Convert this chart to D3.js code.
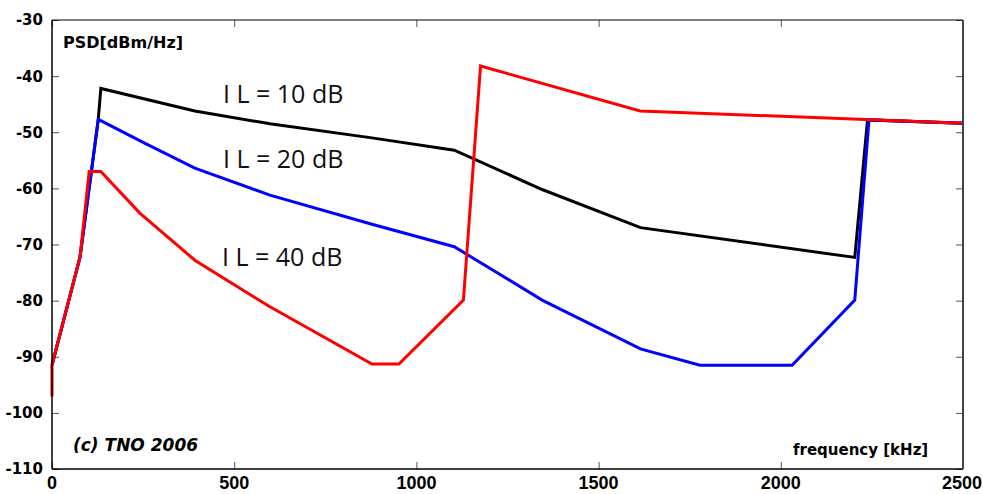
<!DOCTYPE html>
<html><head><meta charset="utf-8">
<script src="https://cdn.jsdelivr.net/npm/d3@7"></script>
<style>body{margin:0;background:#fff;}svg{display:block;}</style>
</head><body>
<svg id="chart" width="983" height="494"></svg>
<script>
// ---- data ----
const xTicks = [0, 500, 1000, 1500, 2000, 2500];
const yTicks = [-110, -100, -90, -80, -70, -60, -50, -40, -30];

const il10Freq = [0, 77, 127, 134, 392, 598, 878, 1104, 1345, 1615, 2203, 2238, 2500];
const il10Psd  = [-91.5, -72.2, -47.7, -42.2, -46.2, -48.5, -51.0, -53.2, -60.2, -67.0, -72.3, -47.8, -48.4];

const il20Freq = [0, 77, 127, 250, 392, 598, 878, 1104, 1345, 1615, 1778, 2031, 2203, 2242, 2500];
const il20Psd  = [-91.5, -72.2, -47.7, -51.8, -56.4, -61.2, -66.4, -70.4, -79.9, -88.6, -91.5, -91.5, -79.9, -47.8, -48.4];

const il40Freq = [0, 0, 77, 102, 134, 241, 392, 598, 878, 952, 1129, 1176, 1614, 2500];
const il40Psd  = [-97.1, -91.5, -72.2, -57.0, -57.0, -64.4, -72.8, -81.1, -91.3, -91.3, -79.9, -38.2, -46.2, -48.4];

const seriesNames = ["I L = 10 dB", "I L = 20 dB", "I L = 40 dB"];
const seriesColors = ["#000000", "#0000ff", "#ff0000"];

// ---- layout ----
const svg = d3.select("#chart");
const L = 52, R = 963, T = 20, B = 469;
const x = d3.scaleLinear().domain([0, 2500]).range([L, R]);
const y = d3.scaleLinear().domain([-110, -30]).range([B, T]);

// ticks (inward on all four sides)
const tickLen = 7;
const g = svg.append("g");
g.append("g").attr("transform", `translate(${L},0)`)
  .call(d3.axisRight(y).tickValues(yTicks).tickSize(tickLen).tickFormat(""))
  .call(s => { s.select(".domain").remove(); s.selectAll("line").attr("stroke", "#555"); });
g.append("g").attr("transform", `translate(${R},0)`)
  .call(d3.axisLeft(y).tickValues(yTicks).tickSize(tickLen).tickFormat(""))
  .call(s => { s.select(".domain").remove(); s.selectAll("line").attr("stroke", "#555"); });
g.append("g").attr("transform", `translate(0,${B})`)
  .call(d3.axisTop(x).tickValues(xTicks).tickSize(tickLen).tickFormat(""))
  .call(s => { s.select(".domain").remove(); s.selectAll("line").attr("stroke", "#555"); });
g.append("g").attr("transform", `translate(0,${T})`)
  .call(d3.axisBottom(x).tickValues(xTicks).tickSize(tickLen).tickFormat(""))
  .call(s => { s.select(".domain").remove(); s.selectAll("line").attr("stroke", "#555"); });

// tick labels
svg.append("g").selectAll("text").data(yTicks).join("text")
  .attr("x", 43).attr("y", d => y(d)).attr("dy", "0.36em")
  .attr("text-anchor", "end")
  .attr("font-family", "DejaVu Sans").attr("font-weight", "bold").attr("font-size", 15)
  .text(d => d);
svg.append("g").selectAll("text").data(xTicks).join("text")
  .attr("x", (d, i) => i === xTicks.length - 1 ? 982 : x(d)).attr("y", 489)
  .attr("text-anchor", (d, i) => i === xTicks.length - 1 ? "end" : "middle")
  .attr("font-family", "Liberation Sans").attr("font-weight", "bold").attr("font-size", 18)
  .text(d => d);

// lines
const line = d3.line().x(d => x(d[0])).y(d => y(d[1]));
const series = [
  d3.zip(il10Freq, il10Psd),
  d3.zip(il20Freq, il20Psd),
  d3.zip(il40Freq, il40Psd)
];
svg.append("g").selectAll("path").data(series).join("path")
  .attr("d", line).attr("fill", "none")
  .attr("stroke", (d, i) => seriesColors[i])
  .attr("stroke-width", 3).attr("stroke-linejoin", "miter");

// spines
svg.append("line").attr("x1", L).attr("x2", R).attr("y1", T).attr("y2", T).attr("stroke", "#000").attr("stroke-width", 1.2);
svg.append("line").attr("x1", L).attr("x2", R).attr("y1", B).attr("y2", B).attr("stroke", "#000").attr("stroke-width", 1.5);
svg.append("line").attr("x1", L).attr("x2", L).attr("y1", T).attr("y2", B).attr("stroke", "#000").attr("stroke-width", 1.5);
svg.append("line").attr("x1", R).attr("x2", R).attr("y1", T).attr("y2", B).attr("stroke", "#444").attr("stroke-width", 2);

// series labels
const labelPos = [[223, 103], [223, 168], [222, 266]];
svg.append("g").selectAll("text").data(seriesNames).join("text")
  .attr("x", (d, i) => labelPos[i][0]).attr("y", (d, i) => labelPos[i][1])
  .attr("font-family", "Open Sans").attr("font-size", 25).attr("fill", "#111")
  .text(d => d);

// annotations
svg.append("text").attr("x", 63).attr("y", 48)
  .attr("font-family", "DejaVu Sans").attr("font-weight", "bold").attr("font-size", 16)
  .text("PSD[dBm/Hz]");
svg.append("text").attr("x", 73).attr("y", 451)
  .attr("font-family", "DejaVu Sans").attr("font-weight", "bold").attr("font-style", "italic").attr("font-size", 17)
  .text("(c) TNO 2006");
svg.append("text").attr("x", 793).attr("y", 455)
  .attr("font-family", "DejaVu Sans").attr("font-weight", "bold").attr("font-size", 15)
  .text("frequency [kHz]");
</script>
</body></html>
